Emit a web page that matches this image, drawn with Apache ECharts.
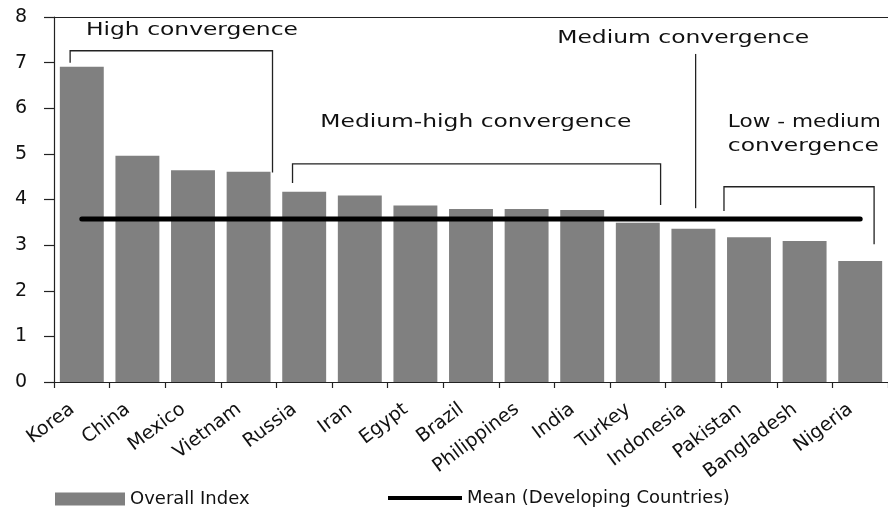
<!DOCTYPE html>
<html>
<head>
<meta charset="utf-8">
<script src="https://cdn.jsdelivr.net/npm/echarts@6/dist/echarts.min.js"></script>
<style>
  html, body { margin: 0; padding: 0; background: #fff; }
  #chart { width: 888px; height: 512px; }
</style>
</head>
<body>
<div id="chart"></div>
<script>
// Countries, ordered by overall index
const categories = ['Korea', 'China', 'Mexico', 'Vietnam', 'Russia', 'Iran', 'Egypt', 'Brazil',
  'Philippines', 'India', 'Turkey', 'Indonesia', 'Pakistan', 'Bangladesh', 'Nigeria'];
const overallIndex = [6.91, 4.96, 4.64, 4.61, 4.17, 4.09, 3.87, 3.79, 3.79, 3.77, 3.49, 3.36, 3.17, 3.09, 2.65];
const developingMean = 3.57;
const yMin = 0, yMax = 8, yStep = 1;

const FONT = '"DejaVu Sans", Arial, sans-serif';

// Group brackets, in category-index / value units
const groupBrackets = [
  { from: -0.21, to: 3.43, top: 7.26, leftEnd: 7.0, rightEnd: 4.59 },
  { from: 3.79, to: 10.41, top: 4.78, leftEnd: 4.36, rightEnd: 3.88 },
  { from: 11.55, to: 14.25, top: 4.28, leftEnd: 3.75, rightEnd: 3.02 }
];
const groupStems = [ { at: 11.04, top: 7.19, bottom: 3.81 } ];
const groupLabels = [
  { text: 'High convergence', at: 0.074, value: 7.71, width: 212 },
  { text: 'Medium-high convergence', at: 4.29, value: 5.69, width: 311 },
  { text: 'Medium convergence', at: 8.55, value: 7.53, width: 252 },
  { text: 'Low - medium', at: 11.62, value: 5.69, width: 153 },
  { text: 'convergence', at: 11.62, value: 5.16, width: 151 }
];

const chart = echarts.init(document.getElementById('chart'), null, { renderer: 'canvas' });

const axisColor = '#222';
const legendText = { fontFamily: FONT, fontSize: 18, color: '#111' };

chart.setOption({
  animation: false,
  backgroundColor: '#fff',
  grid: { left: 54, right: -2, top: 17, bottom: 130, containLabel: false },
  legend: [
    {
      data: [{ name: 'Overall Index', icon: 'rect' }],
      left: 55, top: 490, padding: 0, itemWidth: 70, itemHeight: 13,
      textStyle: legendText
    },
    {
      data: [{ name: 'Mean (Developing Countries)', icon: 'rect' }],
      left: 388, top: 489, padding: 0, itemWidth: 74, itemHeight: 4,
      itemStyle: { color: '#000' },
      textStyle: legendText
    }
  ],
  xAxis: [
    {
      type: 'category', data: categories, position: 'bottom',
      axisLine: { lineStyle: { color: axisColor, width: 1.2 } },
      axisTick: { show: true, length: 6, lineStyle: { color: axisColor, width: 1.2 } },
      axisLabel: {
        rotate: 37, interval: 0, margin: 18, padding: [0, 12, 0, 0],
        fontFamily: FONT, fontSize: 19, color: '#111'
      }
    },
    {
      type: 'category', data: categories, position: 'top',
      axisLine: { lineStyle: { color: axisColor, width: 1.2 } },
      axisTick: { show: false }, axisLabel: { show: false }
    }
  ],
  yAxis: {
    type: 'value', min: yMin, max: yMax, interval: yStep,
    axisLine: { show: true, lineStyle: { color: axisColor, width: 1.2 } },
    axisTick: { show: true, length: 10, lineStyle: { color: axisColor, width: 1.2 } },
    axisLabel: { margin: 27, fontFamily: FONT, fontSize: 19, color: '#111' },
    splitLine: { show: false }
  },
  series: [
    {
      name: 'Overall Index', type: 'bar', data: overallIndex,
      barCategoryGap: '21%',
      itemStyle: { color: '#808080' }
    },
    {
      name: 'Mean (Developing Countries)', type: 'line',
      data: [[categories[0], developingMean], [categories[categories.length - 1], developingMean]],
      symbol: 'none', itemStyle: { color: '#000' },
      lineStyle: { color: '#000', width: 5, cap: 'round' },
      z: 5
    }
  ]
});

// Group annotations positioned through the axes
const x0 = chart.convertToPixel({ xAxisIndex: 0 }, 0);
const step = chart.convertToPixel({ xAxisIndex: 0 }, 1) - x0;
const px = c => x0 + c * step;
const py = v => chart.convertToPixel({ yAxisIndex: 0 }, v);

const measureCtx = document.createElement('canvas').getContext('2d');
const labelFont = '18px ' + FONT;
measureCtx.font = labelFont;

const lineStyle = { stroke: '#222', lineWidth: 1.3, fill: null };
const elements = [];
groupBrackets.forEach(b => {
  elements.push({
    type: 'polyline', silent: true,
    shape: { points: [[px(b.from), py(b.leftEnd)], [px(b.from), py(b.top)], [px(b.to), py(b.top)], [px(b.to), py(b.rightEnd)]] },
    style: lineStyle
  });
});
groupStems.forEach(s => {
  elements.push({
    type: 'line', silent: true,
    shape: { x1: px(s.at), y1: py(s.top), x2: px(s.at), y2: py(s.bottom) },
    style: lineStyle
  });
});
groupLabels.forEach(l => {
  const w = measureCtx.measureText(l.text).width;
  const x = px(l.at), y = py(l.value);
  elements.push({
    type: 'text', silent: true,
    x: x, y: y, scaleX: l.width / w, scaleY: 1,
    style: { text: l.text, font: labelFont, fill: '#111', align: 'left', verticalAlign: 'middle' }
  });
});
chart.setOption({ graphic: { elements: elements } });
</script>
</body>
</html>
